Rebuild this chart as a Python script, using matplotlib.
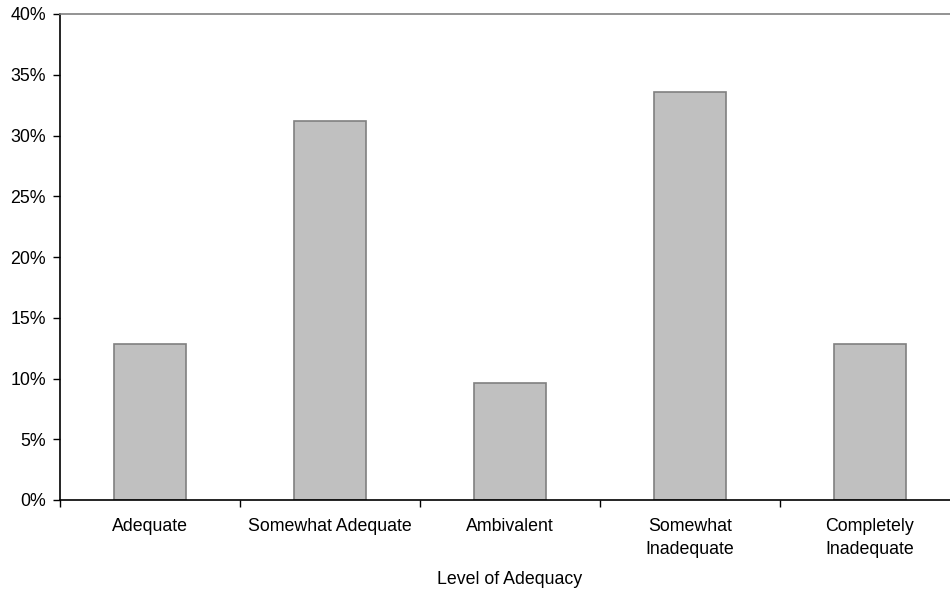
import matplotlib
matplotlib.use("Agg")
from matplotlib import pyplot as plt
from matplotlib.ticker import FixedLocator, PercentFormatter
import numpy as np

plt.rcParams['font.family'] = ['Liberation Sans', 'DejaVu Sans']

categories = ["Adequate", "Somewhat Adequate", "Ambivalent",
              "Somewhat\nInadequate", "Completely\nInadequate"]
values = [12.8, 31.2, 9.6, 33.6, 12.8]
yticks = [0, 5, 10, 15, 20, 25, 30, 35, 40]

fs = 12.8

fig = plt.figure(figsize=(9.5, 5.95), dpi=100)
ax = fig.add_axes([60/950, 95/595, 900/950, 486/595])

x = np.arange(len(categories))
ax.bar(x, values, width=0.4, color="#c0c0c0", edgecolor="#808080", linewidth=1.2)

ax.set_xlim(-0.5, len(categories) - 0.5)
ax.set_ylim(0, 40)
ax.set_yticks(yticks)
ax.yaxis.set_major_formatter(PercentFormatter(decimals=0))

ax.set_xticks(x)
ax.set_xticklabels(categories, fontsize=fs, linespacing=1.45)
ax.xaxis.set_minor_locator(FixedLocator(np.arange(-0.5, len(categories), 1.0)))
ax.tick_params(axis='x', which='major', length=0, pad=13)
ax.tick_params(axis='x', which='minor', length=5, width=1, direction='out')
ax.tick_params(axis='y', length=5, width=1, direction='out', labelsize=fs, pad=5)

ax.spines['right'].set_visible(False)
ax.spines['top'].set_color("#808080")
ax.spines['top'].set_linewidth(1.2)
ax.spines['left'].set_linewidth(1.2)
ax.spines['bottom'].set_linewidth(1.2)

ax.set_xlabel("Level of Adequacy", fontsize=fs, labelpad=9.5)

fig.savefig("out.png", dpi=100)
